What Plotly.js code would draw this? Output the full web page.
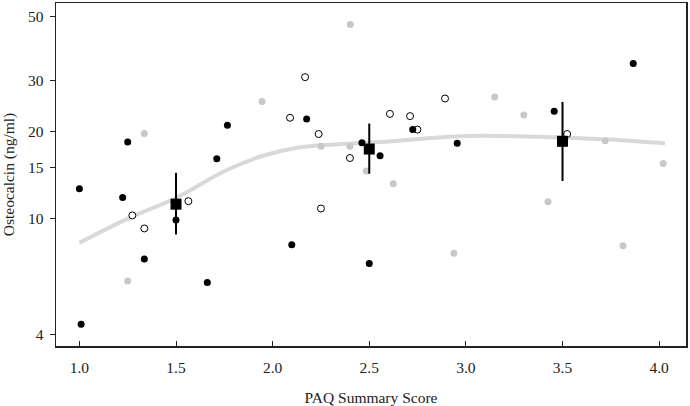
<!DOCTYPE html>
<html>
<head>
<meta charset="utf-8">
<script src="https://cdn.plot.ly/plotly-3.0.1.min.js"></script>
<style>html,body{margin:0;padding:0;background:#fff;}#chart{width:690px;height:406px;}</style>
</head>
<body>
<div id="chart"></div>
<script>
// Filled black points
const blackX = [1.0, 1.224, 1.25, 1.336, 1.5, 1.662, 1.711, 1.766, 1.009, 2.099, 2.176, 2.462, 2.5, 2.556, 2.725, 2.955, 3.457, 3.866];
const blackY = [12.7, 11.85, 18.4, 7.27, 9.9, 6.03, 16.1, 21.0, 4.33, 8.13, 22.07, 18.3, 7.01, 16.5, 20.3, 18.2, 23.5, 34.3];
// Open circles
const openX = [1.274, 1.336, 1.564, 2.09, 2.168, 2.238, 2.40, 2.25, 2.607, 2.711, 2.749, 2.892, 3.524];
const openY = [10.27, 9.26, 11.5, 22.3, 30.8, 19.6, 16.2, 10.85, 23.0, 22.6, 20.3, 26.0, 19.6];
// Gray points
const grayX = [1.336, 1.25, 1.945, 2.402, 2.25, 2.40, 2.485, 2.624, 2.938, 3.149, 3.30, 3.721, 4.021, 3.425, 3.813];
const grayY = [19.7, 6.1, 25.4, 46.8, 17.8, 17.8, 14.6, 13.2, 7.61, 26.3, 22.8, 18.6, 15.5, 11.44, 8.07];
// Group means with intervals
const meanX = [1.5, 2.5, 3.5];
const meanY = [11.23, 17.4, 18.5];
const meanUpper = [14.4, 21.3, 25.3];
const meanLower = [8.83, 14.3, 13.5];
// Smoothed trend
const trendX = [1.0, 1.27, 1.5, 1.76, 1.95, 2.12, 2.3, 2.56, 3.0, 3.5, 3.72, 4.03];
const trendY = [8.26, 10.15, 11.8, 14.7, 16.5, 17.55, 18.0, 18.4, 19.3, 19.05, 18.8, 18.2];
// Ticks
const xTicks = [1.0, 1.5, 2.0, 2.5, 3.0, 3.5, 4.0];
const xTickText = ["1.0", "1.5", "2.0", "2.5", "3.0", "3.5", "4.0"];
const yTicks = [4, 10, 15, 20, 30, 50];

const traces = [
  {x: trendX, y: trendY, mode: 'lines', line: {color: '#d9d9d9', width: 4, shape: 'spline', smoothing: 1}, hoverinfo: 'skip'},
  {x: grayX, y: grayY, mode: 'markers', marker: {color: '#c8c8c8', size: 7, line: {width: 0}}},
  {x: openX, y: openY, mode: 'markers', marker: {color: '#ffffff', size: 7, line: {color: '#000000', width: 1}}},
  {x: blackX, y: blackY, mode: 'markers', marker: {color: '#000000', size: 7, line: {width: 0}}},
  {x: meanX, y: meanY, mode: 'markers', marker: {symbol: 'square', color: '#000000', size: 11},
   error_y: {type: 'data', symmetric: false,
     array: meanY.map((v, i) => meanUpper[i] - v),
     arrayminus: meanY.map((v, i) => v - meanLower[i]),
     color: '#000000', thickness: 2, width: 0}}
];

const font = {family: '"Liberation Serif", "Times New Roman", serif', size: 15.5, color: '#222'};
const layout = {
  width: 690, height: 406,
  margin: {l: 56, r: 4, t: 3, b: 60},
  paper_bgcolor: '#ffffff', plot_bgcolor: '#ffffff',
  showlegend: false,
  font: font,
  xaxis: {
    range: [0.879, 4.139], tickvals: xTicks, ticktext: xTickText,
    ticks: 'inside', ticklen: 5, tickcolor: '#222', tickwidth: 1,
    ticklabelstandoff: 7,
    showline: true, linecolor: '#222', linewidth: 1.5, mirror: true,
    showgrid: false, zeroline: false,
    tickfont: font,
    title: {text: 'PAQ Summary Score', font: font, standoff: 17}
  },
  yaxis: {
    type: 'log', range: [Math.log10(3.64), Math.log10(55.5)], tickvals: yTicks, ticktext: yTicks.map(String),
    ticks: 'outside', ticklen: 5, tickcolor: '#222', tickwidth: 1,
    ticklabelstandoff: 3,
    showline: true, linecolor: '#222', linewidth: 1.5, mirror: true,
    showgrid: false, zeroline: false,
    tickfont: font,
    title: {text: 'Osteocalcin (ng/ml)', font: font, standoff: 10}
  }
};
Plotly.newPlot('chart', traces, layout, {staticPlot: true, displayModeBar: false});
</script>
</body>
</html>
